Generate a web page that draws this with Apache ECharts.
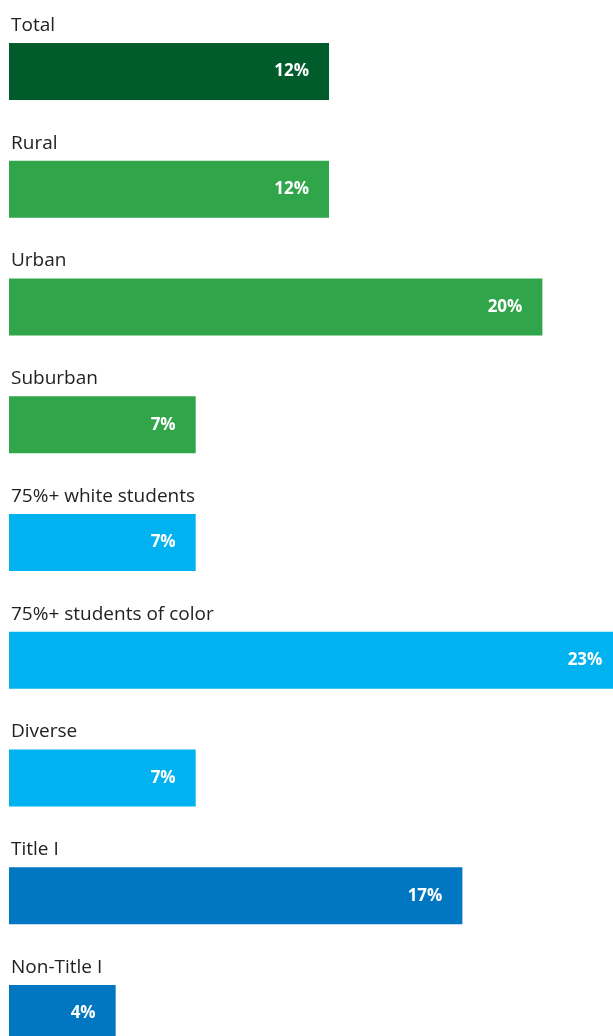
<!DOCTYPE html>
<html>
<head>
<meta charset="utf-8">
<script src="https://cdn.jsdelivr.net/npm/echarts@6/dist/echarts.min.js"></script>
<style>
	html, body { margin: 0; padding: 0; background: #fff; }
	#chart { width: 613px; height: 1036px; }
</style>
</head>
<body>
<div id="chart"></div>
<script>
	const categories = ["Total", "Rural", "Urban", "Suburban", "75%+ white students", "75%+ students of color", "Diverse", "Title I", "Non-Title I"]
	const values = [12, 12, 20, 7, 7, 23, 7, 17, 4]
	const colors = ["#005c2b", "#30a54a", "#30a54a", "#30a54a", "#00b2ef", "#00b2ef", "#00b2ef", "#0077c0", "#0077c0"]

	const chart = echarts.init(document.getElementById("chart"))
	chart.setOption({
		animation: false,
		grid: {
			left: 9,
			top: 12.6,
			width: 613.4,
			height: 1059.75,
			outerBoundsMode: "none",
			containLabel: false
		},
		xAxis: {
			type: "value",
			min: 0,
			max: 23,
			show: false
		},
		yAxis: {
			type: "category",
			inverse: true,
			data: categories,
			axisLine: { show: false },
			axisTick: { show: false },
			axisLabel: { show: false }
		},
		series: [
			{
				type: "bar",
				barWidth: 57,
				data: values.map((v, i) => ({ value: v, itemStyle: { color: colors[i] } })),
				label: {
					show: true,
					position: "insideRight",
					distance: 20,
					formatter: "{c}%",
					color: "#fff",
					fontFamily: "Open Sans",
					fontWeight: "bold",
					fontSize: 17
				}
			},
			{
				// transparent copy, only used to put the category name above each bar
				type: "bar",
				barWidth: 57,
				barGap: "-100%",
				silent: true,
				itemStyle: { color: "transparent" },
				data: values,
				label: {
					show: true,
					position: "insideLeft",
					distance: 2,
					offset: [0, -46],
					formatter: "{b}",
					color: "#222",
					fontFamily: "Open Sans",
					fontSize: 19
				}
			}
		]
	})
</script>
</body>
</html>
